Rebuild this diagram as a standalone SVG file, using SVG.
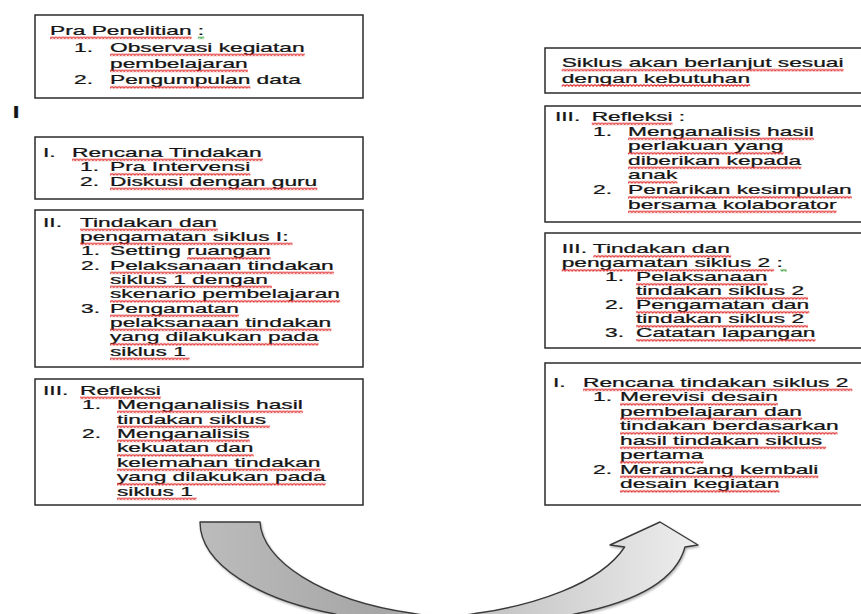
<svg xmlns="http://www.w3.org/2000/svg" width="861" height="614" viewBox="0 0 861 614">
<defs>
<style>
text { font-family: "Liberation Sans", Arial, sans-serif; font-size: 13px; fill: #141414; stroke: #141414; stroke-width: 0.25; }
.box { fill: #ffffff; stroke: #2b2b2b; stroke-width: 1.5; }
.arrow { stroke: #3a3a3a; stroke-width: 1.4; stroke-linejoin: round; }
.big { font-size: 16px; font-weight: bold; }
.sq { fill: url(#sq); }
.sqg { fill: url(#sqg); }
</style>
<pattern id="sq" patternUnits="userSpaceOnUse" width="2" height="3">
<path d="M0,0.5 L1,2.3 L2,0.5" fill="none" stroke="#e02424" stroke-width="0.8"/>
</pattern>
<pattern id="sqg" patternUnits="userSpaceOnUse" width="2" height="3">
<path d="M0,0.5 L1,2.3 L2,0.5" fill="none" stroke="#3aa03a" stroke-width="0.8"/>
</pattern>
<linearGradient id="arrowGrad" gradientUnits="userSpaceOnUse" x1="200" y1="0" x2="700" y2="0">
<stop offset="0" stop-color="#bcbcbc"/>
<stop offset="0.36" stop-color="#a6a6a6"/>
<stop offset="0.48" stop-color="#b2b2b2"/>
<stop offset="0.6" stop-color="#c6c6c6"/>
<stop offset="1" stop-color="#eeeeee"/>
</linearGradient>
<filter id="shadow" x="-10%" y="-10%" width="120%" height="130%">
<feDropShadow dx="1" dy="1.5" stdDeviation="1.2" flood-color="#000" flood-opacity="0.3"/>
</filter>
</defs>
<rect width="861" height="614" fill="#ffffff"/>

<g id="connectors">
<path class="arrow" fill="url(#arrowGrad)" filter="url(#shadow)" d="M200,522 L260,522 C262,560 320,600 412,613.3 C430,617 460,617 476.7,613.3 C530,606 600,585 624.6,547 L610,545 L660,522 L698,545 L685,547 C675,585 625,604 575,614 C520,628 470,645 440,645 C400,645 360,625 335,614 C260,600 200,565 200,522 Z"/>
</g>

<g id="pra-penelitian">
<rect class="box" x="35" y="15" width="328" height="83"/>
<g transform="scale(1.75 1)">
<text x="28.57" y="35">Pra Penelitian :</text>
<text x="42.29" y="52">1.</text>
<text x="62.86" y="52">Observasi kegiatan</text>
<text x="62.86" y="68">pembelajaran</text>
<text x="42.29" y="84.5">2.</text>
<text x="62.86" y="84.5">Pengumpulan data</text>
<rect class="sq" x="28.57" y="0" width="80.9" height="3" transform="translate(0,36.3)"/>
<rect class="sqg" x="113.07" y="0" width="3.6" height="3" transform="translate(0,36.3)"/>
<rect class="sq" x="62.86" y="0" width="111.3" height="3" transform="translate(0,53.3)"/>
<rect class="sq" x="62.86" y="0" width="78.8" height="3" transform="translate(0,69.3)"/>
<rect class="sq" x="62.86" y="0" width="80.2" height="3" transform="translate(0,85.8)"/>
</g>
</g>

<g id="label-i">
<text class="big" x="8.5" y="118" transform="scale(1.5 1)">I</text>
</g>

<g id="rencana-tindakan">
<rect class="box" x="35" y="137" width="328" height="62"/>
<g transform="scale(1.75 1)">
<text x="24.57" y="157">I.</text>
<text x="41.14" y="157">Rencana Tindakan</text>
<text x="45.71" y="171.5">1.</text>
<text x="62.86" y="171.5">Pra Intervensi</text>
<text x="45.71" y="186">2.</text>
<text x="62.86" y="186">Diskusi dengan guru</text>
<rect class="sq" x="41.14" y="0" width="109.1" height="3" transform="translate(0,158.3)"/>
<rect class="sq" x="62.86" y="0" width="80.2" height="3" transform="translate(0,172.8)"/>
<rect class="sq" x="62.86" y="0" width="118.5" height="3" transform="translate(0,187.3)"/>
</g>
</g>

<g id="tindakan-siklus-1">
<rect class="box" x="35" y="210" width="328" height="157"/>
<g transform="scale(1.75 1)">
<text x="24.57" y="227">II.</text>
<text x="45.71" y="227">Tindakan dan</text>
<text x="45.71" y="241">pengamatan siklus I:</text>
<text x="46.29" y="255.5">1.</text>
<text x="62.86" y="255.5">Setting ruangan</text>
<text x="46.29" y="270">2.</text>
<text x="62.86" y="270">Pelaksanaan tindakan</text>
<text x="62.86" y="284">siklus 1 dengan</text>
<text x="62.86" y="298.5">skenario pembelajaran</text>
<text x="46.29" y="313">3.</text>
<text x="62.86" y="313">Pengamatan</text>
<text x="62.86" y="327">pelaksanaan tindakan</text>
<text x="62.86" y="341.5">yang dilakukan pada</text>
<text x="62.86" y="356">siklus 1</text>
<rect class="sq" x="45.71" y="0" width="78.8" height="3" transform="translate(0,228.3)"/>
<rect class="sq" x="45.71" y="0" width="121.4" height="3" transform="translate(0,242.3)"/>
<rect class="sq" x="106.96" y="0" width="47.7" height="3" transform="translate(0,256.8)"/>
<rect class="sq" x="62.86" y="0" width="127.9" height="3" transform="translate(0,271.3)"/>
<rect class="sq" x="62.86" y="0" width="92.5" height="3" transform="translate(0,285.3)"/>
<rect class="sq" x="62.86" y="0" width="131.5" height="3" transform="translate(0,299.8)"/>
<rect class="sq" x="62.86" y="0" width="73.7" height="3" transform="translate(0,314.3)"/>
<rect class="sq" x="62.86" y="0" width="126.5" height="3" transform="translate(0,328.3)"/>
<rect class="sq" x="62.86" y="0" width="119.2" height="3" transform="translate(0,342.8)"/>
<rect class="sq" x="62.86" y="0" width="45.5" height="3" transform="translate(0,357.3)"/>
</g>
</g>

<g id="refleksi-1">
<rect class="box" x="35" y="379" width="328" height="126"/>
<g transform="scale(1.75 1)">
<text x="24.57" y="395">III.</text>
<text x="45.71" y="395">Refleksi</text>
<text x="46.86" y="409">1.</text>
<text x="66.86" y="409">Menganalisis hasil</text>
<text x="66.86" y="424">tindakan siklus</text>
<text x="46.86" y="438">2.</text>
<text x="66.86" y="438">Menganalisis</text>
<text x="66.86" y="452.5">kekuatan dan</text>
<text x="66.86" y="467">kelemahan tindakan</text>
<text x="66.86" y="481.5">yang dilakukan pada</text>
<text x="66.86" y="496">siklus 1</text>
<rect class="sq" x="45.71" y="0" width="46.2" height="3" transform="translate(0,396.3)"/>
<rect class="sq" x="66.86" y="0" width="106.2" height="3" transform="translate(0,410.3)"/>
<rect class="sq" x="66.86" y="0" width="87.4" height="3" transform="translate(0,425.3)"/>
<rect class="sq" x="66.86" y="0" width="75.9" height="3" transform="translate(0,439.3)"/>
<rect class="sq" x="66.86" y="0" width="78.1" height="3" transform="translate(0,453.8)"/>
<rect class="sq" x="66.86" y="0" width="116.3" height="3" transform="translate(0,468.3)"/>
<rect class="sq" x="66.86" y="0" width="119.2" height="3" transform="translate(0,482.8)"/>
<rect class="sq" x="66.86" y="0" width="45.5" height="3" transform="translate(0,497.3)"/>
</g>
</g>

<g id="siklus-berlanjut">
<rect class="box" x="545" y="48" width="330" height="45"/>
<g transform="scale(1.75 1)">
<text x="320.97" y="67.3">Siklus akan berlanjut sesuai</text>
<text x="320.97" y="82.7">dengan kebutuhan</text>
<rect class="sq" x="320.97" y="0" width="161.1" height="3" transform="translate(0,68.6)"/>
<rect class="sq" x="320.97" y="0" width="107.7" height="3" transform="translate(0,84)"/>
</g>
</g>

<g id="refleksi-2">
<rect class="box" x="545" y="106" width="330" height="116"/>
<g transform="scale(1.75 1)">
<text x="317.14" y="121">III.</text>
<text x="338.11" y="121">Refleksi :</text>
<text x="338.86" y="136">1.</text>
<text x="358.86" y="136">Menganalisis hasil</text>
<text x="358.86" y="150.5">perlakuan yang</text>
<text x="358.86" y="165">diberikan kepada</text>
<text x="358.86" y="179.5">anak</text>
<text x="338.86" y="194.5">2.</text>
<text x="358.86" y="194.5">Penarikan kesimpulan</text>
<text x="358.86" y="209">bersama kolaborator</text>
<rect class="sq" x="338.11" y="0" width="46.2" height="3" transform="translate(0,122.3)"/>
<rect class="sq" x="358.86" y="0" width="106.2" height="3" transform="translate(0,137.3)"/>
<rect class="sq" x="358.86" y="0" width="88.9" height="3" transform="translate(0,151.8)"/>
<rect class="sq" x="358.86" y="0" width="99" height="3" transform="translate(0,166.3)"/>
<rect class="sq" x="358.86" y="0" width="28.2" height="3" transform="translate(0,180.8)"/>
<rect class="sq" x="358.86" y="0" width="127.9" height="3" transform="translate(0,195.8)"/>
<rect class="sq" x="358.86" y="0" width="119.2" height="3" transform="translate(0,210.3)"/>
</g>
</g>

<g id="tindakan-siklus-2">
<rect class="box" x="545" y="233" width="330" height="115"/>
<g transform="scale(1.75 1)">
<text x="320.97" y="253.5">III. Tindakan dan</text>
<text x="320.97" y="267.5">pengamatan siklus 2 :</text>
<text x="345.71" y="281.5">1.</text>
<text x="363.43" y="281.5">Pelaksanaan</text>
<text x="363.43" y="295.5">tindakan siklus 2</text>
<text x="345.71" y="309.5">2.</text>
<text x="363.43" y="309.5">Pengamatan dan</text>
<text x="363.43" y="323.5">tindakan siklus 2</text>
<text x="345.71" y="337.5">3.</text>
<text x="363.43" y="337.5">Catatan lapangan</text>
<rect class="sq" x="339.04" y="0" width="78.8" height="3" transform="translate(0,254.8)"/>
<rect class="sq" x="320.97" y="0" width="121.4" height="3" transform="translate(0,268.8)"/>
<rect class="sqg" x="445.97" y="0" width="3.6" height="3" transform="translate(0,268.8)"/>
<rect class="sq" x="363.43" y="0" width="75.2" height="3" transform="translate(0,282.8)"/>
<rect class="sq" x="363.43" y="0" width="98.3" height="3" transform="translate(0,296.8)"/>
<rect class="sq" x="363.43" y="0" width="99" height="3" transform="translate(0,310.8)"/>
<rect class="sq" x="363.43" y="0" width="98.3" height="3" transform="translate(0,324.8)"/>
<rect class="sq" x="363.43" y="0" width="102.6" height="3" transform="translate(0,338.8)"/>
</g>
</g>

<g id="rencana-siklus-2">
<rect class="box" x="545" y="363" width="330" height="142"/>
<g transform="scale(1.75 1)">
<text x="316" y="387">I.</text>
<text x="333.14" y="387">Rencana tindakan siklus 2</text>
<text x="338.86" y="401.5">1.</text>
<text x="354.29" y="401.5">Merevisi desain</text>
<text x="354.29" y="416">pembelajaran dan</text>
<text x="354.29" y="430.5">tindakan berdasarkan</text>
<text x="354.29" y="445">hasil tindakan siklus</text>
<text x="354.29" y="459.5">pertama</text>
<text x="338.86" y="474">2.</text>
<text x="354.29" y="474">Merancang kembali</text>
<text x="354.29" y="488.5">desain kegiatan</text>
<rect class="sq" x="333.14" y="0" width="153.9" height="3" transform="translate(0,388.3)"/>
<rect class="sq" x="354.29" y="0" width="90.3" height="3" transform="translate(0,402.8)"/>
<rect class="sq" x="354.29" y="0" width="104.1" height="3" transform="translate(0,417.3)"/>
<rect class="sq" x="354.29" y="0" width="124.3" height="3" transform="translate(0,431.8)"/>
<rect class="sq" x="354.29" y="0" width="117.8" height="3" transform="translate(0,446.3)"/>
<rect class="sq" x="354.29" y="0" width="47.7" height="3" transform="translate(0,460.8)"/>
<rect class="sq" x="354.29" y="0" width="113.4" height="3" transform="translate(0,475.3)"/>
<rect class="sq" x="354.29" y="0" width="91.1" height="3" transform="translate(0,489.8)"/>
</g>
</g>
</svg>
